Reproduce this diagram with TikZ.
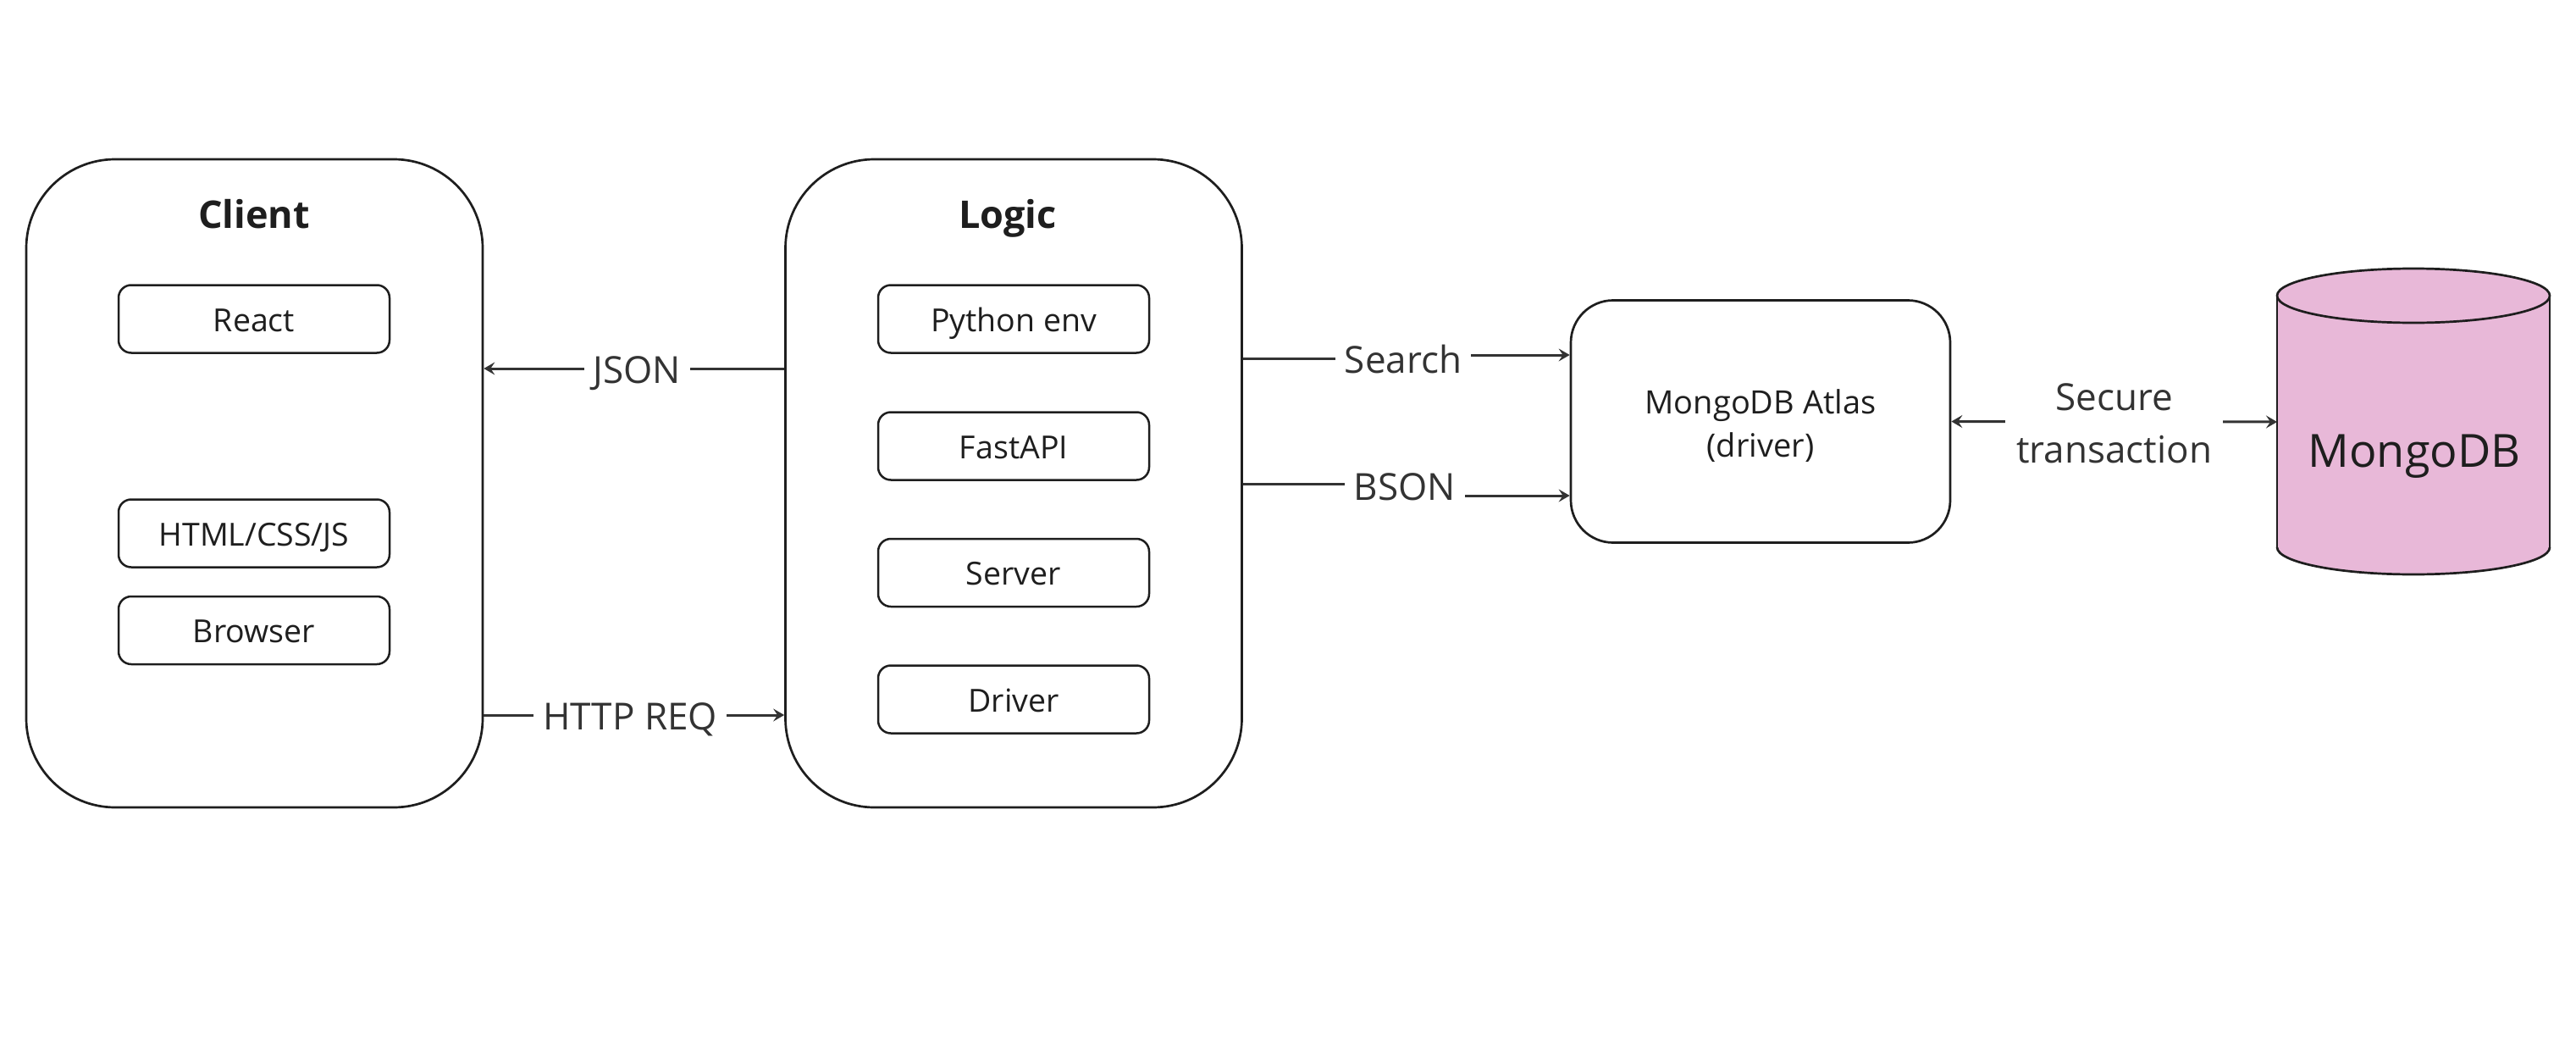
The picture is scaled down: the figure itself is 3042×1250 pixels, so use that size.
\documentclass[tikz,border=0pt]{standalone}
\usepackage{fontspec}
\setmainfont{Open Sans}
\usetikzlibrary{arrows.meta}
\definecolor{linec}{HTML}{1E1E1E}
\definecolor{arrc}{HTML}{333333}
\definecolor{txtc}{HTML}{1E1E1E}
\definecolor{dbpink}{HTML}{E8B8D8}
\tikzset{
  bigbox/.style={draw=linec, line width=2.7pt, rounded corners=105pt, minimum width=539pt, minimum height=765pt, fill=white},
  itembox/.style={draw=linec, line width=2.5pt, rounded corners=15pt, minimum width=320pt, minimum height=80pt, font=\fontsize{37.5}{45}\selectfont, text=txtc, text height=27pt, text depth=0pt, inner sep=0pt},
  titletext/.style={font=\bfseries\fontsize{45}{54}\selectfont, text=txtc, inner sep=0pt},
  conn/.style={draw=arrc, line width=3pt, -{Stealth[length=13pt,width=15pt,inset=5pt]}},
  lbl/.style={fill=white, text=arrc, font=\fontsize{44}{62}\selectfont, inner xsep=11pt, inner ysep=6pt},
  lblone/.style={lbl, text height=31.5pt, text depth=0pt},
}
\begin{document}
\begin{tikzpicture}[x=1pt,y=-1pt]
\useasboundingbox (0,0) rectangle (3042,1250);
% main containers
\node[bigbox] (client) at (300.5,570.5) {};
\node[bigbox] (logic) at (1197,570.5) {};
\node[titletext, anchor=base] (clientT) at (300,269) {Client};
\node[titletext, anchor=base] (logicT) at (1190,269) {Logic};
% client items
\node[itembox] (react) at (300,376.5) {\raisebox{-1pt}{React}};
\node[itembox] (html) at (300,629.5) {\raisebox{-1pt}{HTML/CSS/JS}};
\node[itembox] (browser) at (300,744) {\raisebox{-1pt}{Browser}};
% logic items
\node[itembox] (py) at (1197,376.5) {\raisebox{-1pt}{Python env}};
\node[itembox] (fast) at (1197,526.5) {\raisebox{-1pt}{FastAPI}};
\node[itembox] (server) at (1197,676) {\raisebox{-1pt}{Server}};
\node[itembox] (driver) at (1197,825.5) {\raisebox{-1pt}{Driver}};
% atlas
\node[draw=linec, line width=2.7pt, rounded corners=50pt, minimum width=448pt, minimum height=286pt] (atlas) at (2079,497.5) {};
\node[align=center, font=\fontsize{38}{51}\selectfont, text=txtc, inner sep=0pt] (atlasT) at ([yshift=-5pt]atlas.center) {MongoDB Atlas\\(driver)};
% database cylinder
\fill[dbpink] (2689,349) rectangle (3011,646);
\fill[dbpink] (2850,646) ellipse [x radius=161, y radius=32];
\draw[linec, line width=2.7pt, fill=dbpink] (2850,349) ellipse [x radius=161, y radius=32];
\draw[linec, line width=2.7pt] (2689,349) -- (2689,646);
\draw[linec, line width=2.7pt] (3011,349) -- (3011,646);
\begin{scope}
\clip (2680,646) rectangle (3020,700);
\draw[linec, line width=2.7pt] (2850,646) ellipse [x radius=161, y radius=32];
\end{scope}
\node[font=\fontsize{54}{64}\selectfont, text=txtc, text height=38.5pt, text depth=0pt, inner sep=0pt] (mongo) at (2851,532.5) {MongoDB};
\coordinate (dbw) at (2689,498);
% connectors
\coordinate (yjson) at (0,435);
\coordinate (yhttp) at (0,844);
\draw[conn] (logic.west |- yjson) -- node[lblone, pos=0.49, yshift=-2pt]{JSON} (client.east |- yjson);
\draw[conn] (client.east |- yhttp) -- node[lblone, pos=0.487, yshift=-2pt]{HTTP REQ} (logic.west |- yhttp);
\coordinate (searchc) at (1657,425);
\coordinate (ys1) at (0,423);
\coordinate (ys2) at (0,419);
\draw[conn] (logic.east |- ys1) -| (searchc) |- (atlas.west |- ys2);
\node[lblone] (search) at (searchc) {Search};
\coordinate (bsonc) at (1659,575);
\coordinate (yb1) at (0,571);
\coordinate (yb2) at (0,585);
\draw[conn] (logic.east |- yb1) -| (bsonc) |- (atlas.west |- yb2);
\node[lblone] (bson) at (bsonc) {BSON};
\draw[conn, {Stealth[length=13pt,width=15pt,inset=5pt]}-{Stealth[length=13pt,width=15pt,inset=5pt]}] (atlas.east) -- node[lbl, align=center, inner xsep=13pt, yshift=-2pt]{Secure\\transaction} (dbw);
\end{tikzpicture}
\end{document}
